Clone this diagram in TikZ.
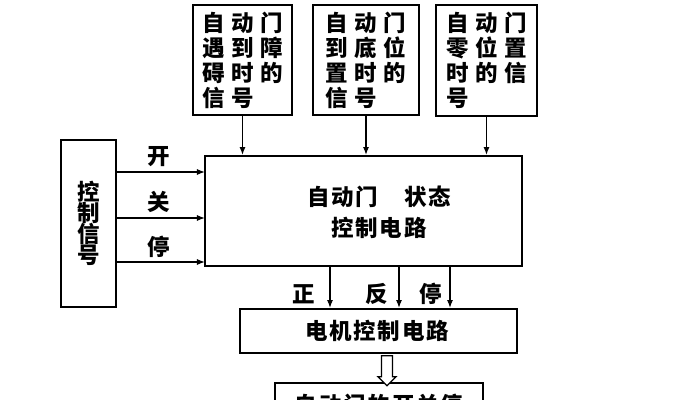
\documentclass[tikz,border=0pt]{standalone}
\usepackage{fontspec}
\setmainfont{Noto Sans CJK SC}
\newfontfamily\widecjk[LetterSpace=30]{Noto Sans CJK SC}
\newfontfamily\normcjk[LetterSpace=8]{Noto Sans CJK SC}
\usetikzlibrary{arrows.meta, positioning, calc, shapes.arrows}
\tikzset{
  every node/.style={font=\normcjk\bfseries\fontsize{16}{18}\selectfont},
  box/.style   = {rectangle, draw, line width=1.3pt, inner sep=0pt, align=center},
  sigbox/.style = {box, font=\widecjk\bfseries\fontsize{16}{17.8}\selectfont, align=left},
  arrow/.style = {-{Latex[length=2mm,width=1.5mm]}, line width=0.9pt},
  lab/.style   = {inner sep=0pt},
  hollow/.style = {single arrow, draw, line width=0.9pt, fill=white, shape border rotate=270,
                   minimum height=0.75cm, minimum width=0.43cm, inner sep=0.12cm,
                   single arrow head extend=0.09cm},
}
\begin{document}
\begin{tikzpicture}[x=0.025cm, y=-0.025cm]
  \clip (0,0) rectangle (679,400);

  % signal boxes on top
  \node[sigbox, minimum width=2.475cm, minimum height=2.75cm]  (obst) at (242.5,60) {自动门\\遇到障\\碍时的\\信号};
  \node[sigbox, minimum width=2.65cm, minimum height=2.75cm]   (bott) at (366,60)   {自动门\\到底位\\置时的\\信号};
  \node[sigbox, minimum width=2.525cm, minimum height=2.775cm] (zero) at (486.5,60.5) {自动门\\零位置\\时的信\\号};

  \node[box, minimum width=7.925cm, minimum height=2.75cm] (state) at (363.5,211) {};
  \node[lab, align=center] (statetxt) at (379,212) {自动门　状态\\[4pt]控制电路};

  \node[box, minimum width=1.375cm, minimum height=4.175cm] (ctrl) at (88.5,223.5) {控\\[-3pt]制\\[-3pt]信\\[-3pt]号};

  \node[box, minimum width=6.925cm, minimum height=1.1cm] (motor) at (378.5,331) {};
  \node[lab] (motortxt) at (377,331) {电机控制电路};

  \node[box, minimum width=5.2cm, minimum height=1.1cm] (door) at (379,405) {自动门的开关停};

  % inputs from above
  \draw[arrow] (obst.south) -- (obst.south |- state.north);
  \draw[arrow] (bott.south) -- (bott.south |- state.north);
  \draw[arrow] (zero.south) -- (zero.south |- state.north);

  % control signals
  \coordinate (k1) at (205,172);
  \coordinate (k2) at (205,218);
  \coordinate (k3) at (205,262);
  \draw[arrow] (ctrl.east |- k1) -- (k1);
  \draw[arrow] (ctrl.east |- k2) -- (k2);
  \draw[arrow] (ctrl.east |- k3) -- (k3);
  \node[lab] (open)  at (159,157) {开};
  \node[lab] (close) at (159,202) {关};
  \node[lab] (halt)  at (159,247) {停};

  % motor commands
  \coordinate (z1) at (330,266);
  \coordinate (z2) at (399,266);
  \coordinate (z3) at (450,266);
  \draw[arrow] (z1) -- (z1 |- motor.north);
  \draw[arrow] (z2) -- (z2 |- motor.north);
  \draw[arrow] (z3) -- (z3 |- motor.north);
  \node[lab] (fwd)  at (304,294) {正};
  \node[lab] (rev)  at (377,294) {反};
  \node[lab] (stop) at (431,294) {停};

  \node[hollow] (out) at (387,368) {};
\end{tikzpicture}
\end{document}
